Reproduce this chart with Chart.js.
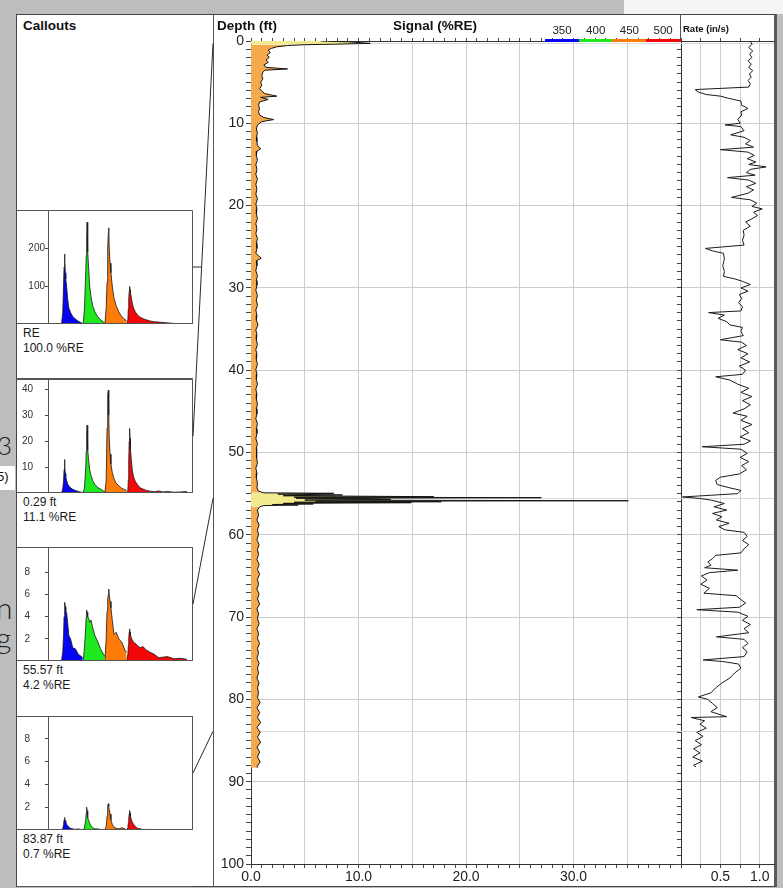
<!DOCTYPE html>
<html><head><meta charset="utf-8">
<script src="https://cdn.jsdelivr.net/npm/chart.js@4.4.1/dist/chart.umd.min.js"></script>
<style>
html,body{margin:0;padding:0;}
body{width:783px;height:888px;position:relative;overflow:hidden;background:#bdbdbd;font-family:"Liberation Sans",Arial,sans-serif;color:#111;}
.a{position:absolute;}
#panel{left:16px;top:14px;width:761px;height:873px;box-sizing:border-box;background:#fff;border:1px solid #454545;border-right:3px solid #5a5a5a;}
.ttl{font-weight:bold;font-size:13.5px;line-height:14px;white-space:nowrap;}
.lbl{font-size:12px;line-height:14px;white-space:nowrap;color:#1a1a1a;}
.hand{font-family:Lato,"DejaVu Sans",sans-serif;font-weight:300;color:#222;line-height:1;}
canvas{position:absolute;}
</style></head>
<body>
<div class="a" style="left:624px;top:0;width:159px;height:14px;background:#f4f4f4"></div>
<div class="a" id="panel"></div>
<div class="a hand" style="left:-3px;top:432px;font-size:26px">3</div>
<div class="a" style="left:0;top:466px;width:15px;height:24px;background:#fff"></div>
<div class="a" style="left:-3px;top:469px;font-size:13px;">5)</div>
<div class="a hand" style="left:-4px;top:592px;font-size:30px">n</div>
<div class="a hand" style="left:-4px;top:622px;font-size:30px">g</div>
<div class="a" style="left:213px;top:14px;width:1px;height:873px;background:#555"></div>
<div class="a" style="left:680px;top:14px;width:1px;height:28px;background:#555"></div>
<canvas id="main" width="468" height="860" style="left:213px;top:26px;width:468px;height:860px"></canvas>
<canvas id="rate" width="101" height="860" style="left:676px;top:26px;width:101px;height:860px"></canvas>
<div id="callouts"></div>
<div class="a ttl" style="left:23px;top:19px">Callouts</div>
<div class="a ttl" style="left:217px;top:19px">Depth (ft)</div>
<div class="a ttl" style="left:393px;top:19px">Signal (%RE)</div>
<div class="a ttl" style="left:683px;top:22px;font-size:9.5px">Rate (in/s)</div>
<div id="legend"></div>
<canvas id="overlay" width="783" height="888" style="left:0;top:0;width:783px;height:888px;pointer-events:none"></canvas>
<script>
// ---------------- DATA ----------------
const wavelengths = ['350', '400', '450', '500'];
const channelColors = ['#0505f2', '#1ee81e', '#ff7b0a', '#f20808'];

// Main log: signal (%RE) vs depth (ft)
const signalDepth = [
 0.00,0.10,0.20,0.29,0.38,0.45,0.55,0.70,0.90,1.10,
 1.40,1.70,2.00,2.30,2.60,2.90,3.20,3.40,3.55,3.80,
 4.20,4.60,5.00,5.40,5.80,6.10,6.40,6.70,6.85,7.10,
 7.40,7.80,8.20,8.60,9.00,9.30,9.55,9.80,10.2,10.7,
 11.2,11.7,12.2,12.7,13.1,13.4,13.9,14.5,15.0,15.6,
 16.2,16.8,17.4,18.0,18.6,19.2,19.8,20.4,21.0,21.6,
 22.2,22.8,23.4,24.0,24.6,25.2,25.8,26.4,26.7,27.3,
 27.9,28.5,29.1,29.7,30.3,30.9,31.5,32.1,32.7,33.3,
 33.9,34.5,35.1,35.7,36.3,36.9,37.5,38.1,38.7,39.3,
 39.9,40.5,41.1,41.7,42.3,42.9,43.5,44.1,44.7,45.3,
 45.9,46.5,47.1,47.7,48.3,48.9,49.5,50.1,50.7,51.3,
 51.9,52.5,53.1,53.7,54.3,54.7,54.9,54.96,55.05,55.16,
 55.25,55.37,55.43,55.49,55.55,55.62,55.69,55.78,55.86,55.92,
 55.98,56.05,56.10,56.18,56.25,56.32,56.38,56.45,56.60,57.0,
 57.6,58.2,58.8,59.4,60.0,60.6,61.2,61.8,62.4,63.0,
 63.6,64.2,64.8,65.4,66.0,66.6,67.2,67.8,68.4,69.0,
 69.6,70.2,70.8,71.4,72.0,72.6,73.2,73.8,74.4,75.0,
 75.6,76.2,76.8,77.4,78.0,78.6,79.2,79.8,80.4,81.0,
 81.6,82.2,82.8,83.4,84.0,84.6,85.2,85.8,86.4,87.0,
 87.6,88.2,88.3];
const signalValue = [
 6.5,9.0,10.2,11.1,8.0,5.0,3.4,2.4,1.9,1.6,
 1.8,1.5,1.7,1.4,1.6,1.2,1.4,3.4,1.3,1.1,
 1.0,1.1,0.9,1.0,0.8,1.0,1.3,2.4,0.9,1.6,
 0.8,0.7,0.8,0.7,0.8,1.2,2.1,1.0,0.6,0.5,
 0.6,0.5,0.55,0.6,0.9,0.55,0.5,0.6,0.45,0.55,
 0.45,0.6,0.45,0.55,0.45,0.6,0.45,0.55,0.5,0.6,
 0.45,0.55,0.45,0.6,0.5,0.55,0.45,0.95,0.5,0.55,
 0.45,0.6,0.5,0.55,0.45,0.6,0.5,0.6,0.45,0.55,
 0.5,0.65,0.45,0.55,0.5,0.6,0.45,0.55,0.5,0.6,
 0.45,0.55,0.5,0.6,0.45,0.55,0.5,0.6,0.5,0.55,
 0.45,0.6,0.5,0.55,0.45,0.6,0.5,0.55,0.5,0.6,
 0.45,0.55,0.5,0.6,0.55,0.7,1.2,7.7,2.5,8.5,
 3.0,17.0,4.0,27.0,4.2,11.4,13.0,5.0,35.1,6.0,
 17.7,4.0,14.9,3.0,5.8,2.0,4.4,1.2,0.8,0.6,
 0.7,0.55,0.75,0.6,0.7,0.55,0.75,0.6,0.7,0.55,
 0.75,0.6,0.8,0.6,0.7,0.55,0.75,0.6,0.8,0.55,
 0.7,0.6,0.75,0.55,0.7,0.6,0.8,0.6,0.7,0.55,
 0.75,0.6,0.7,0.55,0.75,0.6,0.7,0.6,0.85,0.55,
 0.8,0.6,0.9,0.55,0.85,0.6,0.9,0.55,0.8,0.6,
 0.85,0.55,0.6];

// Rate log: rate (in/s) vs depth (ft)
const rateDepth = [
 0.0,0.4,0.8,1.2,1.6,2.0,2.4,2.8,3.2,3.6,
 4.0,4.4,4.8,5.2,5.6,5.9,6.2,6.5,6.7,7.0,
 7.3,7.8,8.2,8.6,9.0,9.5,10.0,10.2,10.4,10.9,
 11.4,11.7,12.1,12.5,12.9,13.2,13.5,13.9,14.3,14.7,
 15.0,15.3,15.6,16.0,16.3,16.6,16.9,17.3,17.7,18.1,
 18.5,19.0,19.3,19.7,20.1,20.4,20.8,21.2,21.6,22.0,
 22.5,23.0,23.6,24.2,24.8,25.2,25.5,25.8,26.5,27.3,
 28.0,28.6,28.9,29.2,29.6,30.0,30.4,30.8,31.3,31.8,
 32.3,32.8,33.0,33.3,33.7,34.1,34.5,34.8,35.3,35.8,
 36.3,36.6,37.0,37.5,38.0,38.5,39.0,39.5,40.0,40.5,
 40.8,41.2,41.7,42.2,42.7,43.2,43.7,44.2,44.7,45.2,
 45.6,46.1,46.6,47.1,47.6,48.1,48.6,49.0,49.3,49.6,
 50.1,50.6,51.1,51.6,52.1,52.6,53.0,53.4,53.9,54.3,
 54.6,55.0,55.4,55.6,55.8,56.2,56.6,57.0,57.4,57.8,
 58.2,58.6,59.0,59.4,59.7,60.2,60.7,61.2,61.7,62.2,
 62.5,62.9,63.3,63.7,64.0,64.3,64.6,65.0,65.5,66.0,
 66.5,67.1,67.4,67.8,68.3,68.8,69.1,69.4,69.9,70.4,
 70.9,71.4,71.9,72.4,72.7,73.2,73.7,74.2,74.8,75.2,
 75.4,75.7,76.2,76.8,77.4,78.0,78.6,79.2,79.7,80.0,
 80.5,81.0,81.5,82.1,82.2,82.6,83.0,83.5,84.0,84.5,
 85.0,85.5,86.0,86.5,87.0,87.5,88.0,88.2];
const rateValue = [
 0.88,0.90,0.86,0.91,0.87,0.90,0.85,0.89,0.86,0.91,
 0.87,0.89,0.85,0.88,0.86,0.18,0.22,0.32,0.50,0.62,
 0.76,0.77,0.85,0.76,0.77,0.72,0.75,0.56,0.76,0.80,
 0.63,0.80,0.88,0.82,0.92,0.50,0.85,0.93,0.84,0.95,
 0.86,1.08,0.88,0.83,0.94,0.59,0.86,0.95,0.83,0.92,
 0.85,0.64,0.88,0.96,0.90,1.03,0.92,0.97,0.90,0.82,
 0.88,0.79,0.80,0.78,0.80,0.31,0.40,0.54,0.55,0.53,
 0.55,0.54,0.68,0.78,0.88,0.76,0.85,0.74,0.77,0.73,
 0.78,0.76,0.35,0.55,0.47,0.58,0.62,0.78,0.76,0.79,
 0.50,0.77,0.83,0.72,0.85,0.76,0.87,0.74,0.82,0.78,
 0.44,0.62,0.72,0.86,0.76,0.90,0.78,0.88,0.80,0.66,
 0.84,0.76,0.90,0.78,0.86,0.75,0.88,0.80,0.27,0.76,
 0.84,0.75,0.86,0.77,0.83,0.74,0.50,0.44,0.46,0.62,
 0.76,0.72,0.02,0.25,0.39,0.55,0.42,0.58,0.40,0.52,
 0.45,0.61,0.48,0.56,0.80,0.84,0.78,0.86,0.80,0.76,
 0.44,0.40,0.34,0.38,0.30,0.72,0.36,0.26,0.33,0.25,
 0.36,0.29,0.70,0.75,0.82,0.74,0.20,0.72,0.85,0.78,
 0.88,0.80,0.86,0.45,0.80,0.85,0.78,0.84,0.80,0.28,
 0.53,0.73,0.76,0.68,0.62,0.52,0.44,0.38,0.22,0.34,
 0.40,0.46,0.38,0.58,0.13,0.30,0.24,0.32,0.20,0.28,
 0.18,0.26,0.16,0.24,0.15,0.27,0.16,0.19];

// Callouts
const calloutDepth = [null, 0.29, 55.57, 83.87];
const calloutSignal = [100.0, 11.1, 4.2, 0.7];
const calloutMax = [300, 44, 10.3, 10];
const calloutStep = [100, 10, 2, 2];

// waveform time bases (ns) per channel
const blueTime   = [31,34,36,37,38,39,40,41,43,45,48,52,57,63,70,77,80];
const greenTime  = [81,84,87,88,89,90,91,92,94,96,99,103,108,114,121,128,131];
const orangeTime = [131,134,136,137,138,139,140,141,143,145,148,152,157,163,170,177,181];
const redTime    = [181,184,185,186,187,188,189,190,192,194,197,201,206,212,219,226,235,245,255,265,275,290,305,320];

// callout 1: reference (RE)
const refBlue   = [0,30,110,150,184,165,135,118,98,70,42,30,20,13,7,3,1];
const refGreen  = [0,40,140,180,220,268,230,190,140,100,72,48,32,20,11,5,2];
const refOrange = [0,40,110,160,200,240,253,200,160,135,100,68,48,32,19,12,9];
const refRed    = [0,10,40,65,85,99,90,82,70,55,42,32,24,18,14,11,8,6,5,4,3,1.5,1,0.5];
// callout 2: 0.29 ft
const c2Blue   = [0,1.5,5,9,12.9,10,7.5,6.2,4.8,3.6,2.7,2,1.4,1,0.6,0.3,0.2];
const c2Green  = [0,2,10,16,22,26.2,20,16.5,12,9,6.8,4.8,3.3,2.2,1.5,0.8,0.5];
const c2Orange = [0,5,25,36,38,39.7,30,21.6,15,11.3,8,5.5,3.8,2.8,1.8,1.3,1];
const c2Red    = [0,1,5,12,20,24.9,21,17,12.5,9,6.3,4.5,3.2,2,1.5,1,0.7,0.5,0.8,0.4,0.6,0.3,0.4,0.6];
// callout 3: 55.57 ft
const c3Blue   = [0,0.8,2.5,4,5.0,5.3,4.9,4.6,4.3,3.6,2.3,2.0,1.2,1.1,0.6,0.4,0.3];
const c3Green  = [0,1.2,3.2,4.0,4.6,4.4,4.2,4.0,3.8,3.5,3.7,3.0,2.3,1.8,1.1,0.6,0.4];
const c3Orange = [0,2,4.5,5.2,5.6,6.0,6.5,6.0,5.4,4.8,3.7,2.4,2.6,2.0,1.7,1.0,0.8];
const c3Red    = [0,0.6,1.4,2.0,2.6,2.9,2.6,2.3,2.1,1.9,1.7,1.6,1.4,1.2,1.3,1.0,0.8,0.6,0.3,0.35,0.4,0.2,0.25,0.15];
// callout 4: 83.87 ft
const c4Blue   = [0,0.1,0.5,0.9,1.1,1.0,0.8,0.7,0.5,0.4,0.25,0.15,0.1,0.05,0.1,0,0];
const c4Green  = [0,0.2,0.9,1.5,2.0,1.7,1.4,1.1,0.8,0.6,0.35,0.2,0.1,0.1,0.05,0,0];
const c4Orange = [0,0.3,1.2,1.8,2.1,2.3,2.1,1.8,1.4,0.9,0.5,0.25,0.15,0.1,0.2,0.1,0];
const c4Red    = [0,0.2,0.6,1.0,1.4,1.7,1.5,1.2,0.9,0.7,0.5,0.3,0.15,0.1,0.05,0.05,0.05,0.02,0.05,0.02,0.05,0.02,0.02,0.02];

// ---------------- BUILD ----------------
const FONT = '"Liberation Sans", Arial, Helvetica, sans-serif';
Chart.defaults.font.family = FONT;
const GRID = '#cdcdcd';
const NONE = 'rgba(0,0,0,0)';
const near = (v, m) => Math.abs(v / m - Math.round(v / m)) < 1e-6;

// legend
const legend = document.getElementById('legend');
wavelengths.forEach((w, i) => {
  const left = 545 + i * 33.7;
  const t = document.createElement('div');
  t.className = 'a'; t.textContent = w;
  t.style.cssText = `left:${left}px;top:24px;width:34px;text-align:center;font-size:11.5px;line-height:12px;color:#222`;
  legend.appendChild(t);
  const b = document.createElement('div');
  b.className = 'a';
  b.style.cssText = `left:${left}px;top:39px;width:34.5px;height:3px;background:${channelColors[i]}`;
  legend.appendChild(b);
});

const depthMarkers = {
  id: 'depthMarkers',
  beforeDatasetsDraw(chart) {
    const {ctx, chartArea: a, scales: {y}} = chart;
    ctx.save(); ctx.strokeStyle = '#d9d9d9'; ctx.lineWidth = 1;
    calloutDepth.forEach(d => {
      if (d == null) return;
      const py = Math.round(y.getPixelForValue(d)) + 0.5;
      ctx.beginPath(); ctx.moveTo(a.left, py); ctx.lineTo(a.right, py); ctx.stroke();
    });
    ctx.restore();
  }
};

const paleBand = d => d < 0.42 || (d >= 54.9 && d < 56.5);

const mainChart = new Chart(document.getElementById('main'), {
  type: 'line',
  data: { datasets: [{
    data: signalDepth.map((d, i) => ({x: signalValue[i], y: d})),
    borderColor: '#141414', borderWidth: 1, pointRadius: 0, tension: 0,
    fill: 'origin', backgroundColor: '#f5aa4e',
    segment: { backgroundColor: c => paleBand(c.p0.parsed.y) ? '#f1ea8e' : undefined }
  }]},
  options: {
    indexAxis: 'y', responsive: false, animation: false, events: [],
    layout: { padding: 0 },
    plugins: { legend: {display: false}, tooltip: {enabled: false} },
    scales: {
      x: { type: 'linear', position: 'bottom', min: 0, max: 40,
        ticks: { stepSize: 1, autoSkip: false, maxRotation: 0, includeBounds: false, padding: 1, color: '#222',
          font: {size: 14}, callback: v => (near(v, 10) && v < 40) ? v.toFixed(1) : '' },
        grid: { color: c => (c.tick && near(c.tick.value, 5) && c.tick.value > 0 && c.tick.value < 40) ? GRID : NONE,
          tickColor: '#444', tickLength: 4 },
        border: { color: '#333' },
        afterFit: s => { s.height = 22; s.paddingLeft = 0; s.paddingRight = 0; } },
      xTop: { type: 'linear', position: 'top', min: 0, max: 40,
        ticks: { stepSize: 1, autoSkip: false, display: false, includeBounds: false },
        grid: { drawOnChartArea: false, tickColor: '#444', tickLength: 3 },
        border: { color: '#333' },
        afterFit: s => { s.height = 15; } },
      y: { type: 'linear', position: 'left', min: 0, max: 100, reverse: true,
        ticks: { stepSize: 1, autoSkip: false, includeBounds: false, padding: 2, color: '#222',
          font: {size: 14}, callback: v => near(v, 10) ? String(v) : '' },
        grid: { color: c => (c.tick && near(c.tick.value, 10) && c.tick.value > 0 && c.tick.value < 100) ? GRID : NONE,
          tickColor: '#444', tickLength: 5 },
        border: { color: '#333' },
        afterFit: s => { s.width = 38; s.paddingTop = 0; s.paddingBottom = 0; } }
    }
  },
  plugins: [depthMarkers]
});

new Chart(document.getElementById('rate'), {
  type: 'line',
  data: { datasets: [{
    data: rateDepth.map((d, i) => ({x: rateValue[i], y: d})),
    borderColor: '#1c1c1c', borderWidth: 1, pointRadius: 0, tension: 0, fill: false
  }]},
  options: {
    indexAxis: 'y', responsive: false, animation: false, events: [],
    layout: { padding: {right: 3} },
    plugins: { legend: {display: false}, tooltip: {enabled: false} },
    scales: {
      x: { type: 'linear', position: 'bottom', min: 0, max: 1.18,
        ticks: { stepSize: 0.25, autoSkip: false, maxRotation: 0, includeBounds: false, padding: 1, color: '#222',
          font: {size: 14}, callback: v => (near(v, 0.5) && v > 0) ? v.toFixed(1) : '' },
        grid: { color: c => (c.tick && c.tick.value > 0 && c.tick.value < 1.1) ? GRID : NONE,
          tickColor: '#444', tickLength: 4 },
        border: { color: '#333' },
        afterFit: s => { s.height = 22; s.paddingLeft = 0; s.paddingRight = 0; } },
      xTop: { type: 'linear', position: 'top', min: 0, max: 1.18,
        ticks: { stepSize: 0.25, display: false, includeBounds: false },
        grid: { drawOnChartArea: false, tickColor: '#444', tickLength: 3 },
        border: { color: '#333' },
        afterFit: s => { s.height = 15; } },
      y: { type: 'linear', position: 'left', min: 0, max: 100, reverse: true,
        ticks: { stepSize: 1, autoSkip: false, display: false, includeBounds: false },
        grid: { color: c => (c.tick && near(c.tick.value, 10) && c.tick.value > 0 && c.tick.value < 100) ? GRID : NONE,
          tickColor: '#444', tickLength: 4 },
        border: { color: '#333' },
        afterFit: s => { s.width = 5; s.paddingTop = 0; s.paddingBottom = 0; } }
    }
  },
  plugins: [depthMarkers]
});

// callouts
const calloutTop = [210, 379, 547, 716];
const calloutBoxH = [168, 168, 169, 170];
const calloutPad = [0, 12, 15, 15];
const channelTimes = [blueTime, greenTime, orangeTime, redTime];
const calloutWaves = [
  [refBlue, refGreen, refOrange, refRed],
  [c2Blue, c2Green, c2Orange, c2Red],
  [c3Blue, c3Green, c3Orange, c3Red],
  [c4Blue, c4Green, c4Orange, c4Red]
];
const calloutFrame = {
  id: 'calloutFrame',
  afterDraw(chart) {
    const {ctx, chartArea: a} = chart;
    ctx.save(); ctx.strokeStyle = '#555'; ctx.lineWidth = 1;
    ctx.beginPath();
    ctx.moveTo(0, a.top + 0.5); ctx.lineTo(a.right - 0.5, a.top + 0.5); ctx.lineTo(a.right - 0.5, a.bottom - 0.5);
    ctx.moveTo(0, a.bottom - 0.5); ctx.lineTo(a.right, a.bottom - 0.5);
    ctx.moveTo(a.left + 0.5, a.top); ctx.lineTo(a.left + 0.5, a.bottom);
    ctx.stroke(); ctx.restore();
  }
};
const holder = document.getElementById('callouts');
const calloutCharts = [];
calloutTop.forEach((T, i) => {
  const cv = document.createElement('canvas');
  cv.width = 177; cv.height = 115;
  cv.style.cssText = `left:16px;top:${T}px;width:177px;height:115px`;
  holder.appendChild(cv);
  const ln = document.createElement('div');
  ln.className = 'a';
  ln.style.cssText = `left:16px;top:${T + calloutBoxH[i]}px;width:177px;height:1px;background:#555`;
  holder.appendChild(ln);
  const l1 = document.createElement('div');
  l1.className = 'a lbl';
  l1.style.cssText = `left:23px;top:${T + 116}px`;
  l1.textContent = calloutDepth[i] == null ? 'RE' : calloutDepth[i].toFixed(2) + ' ft';
  holder.appendChild(l1);
  const l2 = document.createElement('div');
  l2.className = 'a lbl';
  l2.style.cssText = `left:23px;top:${T + 131}px`;
  l2.textContent = calloutSignal[i].toFixed(1) + ' %RE';
  holder.appendChild(l2);

  const ymax = calloutMax[i], ystep = calloutStep[i];
  calloutCharts.push(new Chart(cv, {
    type: 'line',
    data: { datasets: calloutWaves[i].map((vals, k) => ({
      data: channelTimes[k].map((t, j) => ({x: t, y: vals[j]})),
      borderColor: '#161616', borderWidth: 0.8, backgroundColor: channelColors[k],
      fill: 'origin', pointRadius: 0, tension: 0
    }))},
    options: {
      responsive: false, animation: false, events: [],
      layout: { padding: 0 },
      plugins: { legend: {display: false}, tooltip: {enabled: false} },
      scales: {
        x: { type: 'linear', min: 0, max: 334, ticks: {display: false}, grid: {display: false},
          border: {display: false}, afterFit: s => { s.height = 1; s.paddingLeft = 0; s.paddingRight = 0; } },
        y: { type: 'linear', min: 0, max: ymax,
          ticks: { stepSize: ystep, includeBounds: false, autoSkip: false, padding: calloutPad[i], color: '#333',
            font: {size: 10}, callback: v => (v === 0 || v > ymax - 0.3 * ystep) ? '' : String(v) },
          grid: { drawOnChartArea: false, tickColor: c => (c.tick && c.tick.value > 0 && c.tick.value < ymax - 0.3 * ystep) ? '#444' : NONE, tickLength: 3 },
          border: { display: false },
          afterFit: s => { s.width = 32; s.paddingTop = 0; s.paddingBottom = 0; } }
      }
    },
    plugins: [calloutFrame]
  }));
});

// connector lines from callout boxes to the depth track
const ov = document.getElementById('overlay').getContext('2d');
const mainTop = 26;
ov.strokeStyle = '#2a2a2a'; ov.lineWidth = 1;
calloutCharts.forEach((ch, i) => {
  const a = ch.chartArea;
  const y0 = calloutTop[i] + (a.top + a.bottom) / 2;
  const x0 = 16 + a.right;
  ov.beginPath();
  ov.moveTo(x0, y0);
  if (calloutDepth[i] == null) ov.lineTo(x0 + 8, y0);
  else ov.lineTo(213, mainTop + mainChart.scales.y.getPixelForValue(calloutDepth[i]));
  ov.stroke();
});
</script>
</body></html>
